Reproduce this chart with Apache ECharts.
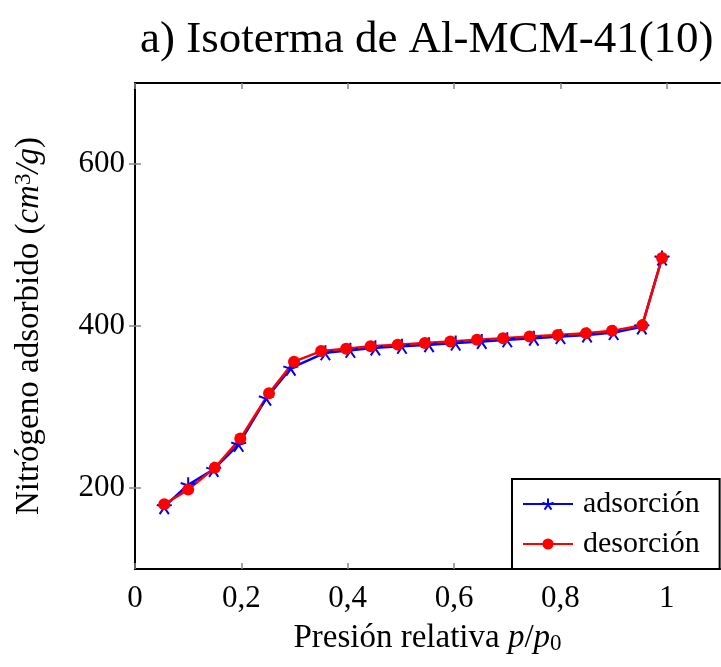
<!DOCTYPE html>
<html>
<head>
<meta charset="utf-8">
<script src="https://cdn.jsdelivr.net/npm/echarts@6/dist/echarts.min.js"></script>
<style>html,body{margin:0;padding:0;background:#fff}#c{width:721px;height:667px}</style>
</head>
<body>
<div id="c"></div>
<script>
const titleText = 'a) Isoterma de Al-MCM-41(10)';
const xTicks = [0, 0.2, 0.4, 0.6, 0.8, 1];
const yTicks = [200, 400, 600];
const adsX = [0.055, 0.1, 0.148, 0.195, 0.247, 0.293, 0.358, 0.405, 0.452, 0.502, 0.553, 0.603, 0.652, 0.7, 0.75, 0.8, 0.85, 0.9, 0.953, 0.991];
const adsY = [177, 204, 223, 254, 311, 348, 367, 370, 373, 375, 377, 379, 381, 383, 385, 387, 389, 392, 399, 484];
const desX = [0.055, 0.1, 0.15, 0.198, 0.252, 0.299, 0.35, 0.397, 0.443, 0.494, 0.545, 0.593, 0.643, 0.692, 0.742, 0.795, 0.848, 0.897, 0.954, 0.991];
const desY = [180, 198, 225, 261, 317, 356, 369, 372, 375, 377, 379, 381, 383, 385, 387, 389, 391, 394, 401, 484];

const FONT = 'Liberation Serif';
const chart = echarts.init(document.getElementById('c'), null, {renderer: 'canvas'});
const star = 'path://M0,-1L0,0M0.951,-0.309L0,0M0.588,0.809L0,0M-0.588,0.809L0,0M-0.951,-0.309L0,0';
const fmtX = v => String(Math.round(v * 10) / 10).replace('.', ',');
const tickStyle = {show: true, inside: true, length: 6, lineStyle: {color: '#888', width: 1.5}};
const lineStyle = {show: true, lineStyle: {color: '#000', width: 2}};
chart.setOption({
  animation: false,
  backgroundColor: '#fff',
  title: {text: titleText, left: 135, top: 13, textStyle: {fontFamily: FONT, fontWeight: 'normal', fontSize: 45, color: '#000'}},
  grid: {left: 135, top: 83, right: 1, bottom: 98, containLabel: false},
  legend: {
    orient: 'vertical', left: 512, top: 479, padding: [10, 20, 10, 10], itemGap: 10,
    backgroundColor: '#fff', borderColor: '#000', borderWidth: 2,
    itemWidth: 50, itemHeight: 14,
    textStyle: {fontFamily: FONT, fontSize: 30, color: '#000', padding: [0, 0, 0, 5]},
    data: ['adsorción', 'desorción']
  },
  xAxis: [{
    type: 'value', min: 0, max: 1.1,
    name: '{n|Presión relativa }{i|p}{n|/}{i|p}{s|0}',
    nameLocation: 'middle', nameGap: 53,
    nameTextStyle: {fontFamily: FONT, color: '#000', rich: {
      n: {fontFamily: FONT, fontSize: 33, color: '#000'},
      i: {fontFamily: FONT, fontSize: 33, fontStyle: 'italic', color: '#000'},
      s: {fontFamily: FONT, fontSize: 23, color: '#000', verticalAlign: 'bottom', padding: [10, 0, 0, 0]}
    }},
    axisLine: lineStyle, splitLine: {show: false},
    axisTick: Object.assign({customValues: xTicks}, tickStyle),
    axisLabel: {customValues: xTicks, formatter: fmtX, fontFamily: FONT, fontSize: 31, color: '#000', margin: 14}
  }, {
    type: 'value', min: 0, max: 1.1, position: 'top',
    axisLine: lineStyle, splitLine: {show: false},
    axisTick: Object.assign({customValues: xTicks}, tickStyle),
    axisLabel: {show: false}
  }],
  yAxis: [{
    type: 'value', min: 100, max: 700,
    name: '{n|Nitrógeno adsorbido (}{i|cm}{p|3}{i|/g}{n|)}',
    nameLocation: 'middle', nameGap: 88, nameRotate: 90,
    nameTextStyle: {fontFamily: FONT, color: '#000', rich: {
      n: {fontFamily: FONT, fontSize: 33, color: '#000'},
      i: {fontFamily: FONT, fontSize: 33, fontStyle: 'italic', color: '#000'},
      p: {fontFamily: FONT, fontSize: 23, color: '#000', verticalAlign: 'top', padding: [0, 0, 12, 0]}
    }},
    axisLine: lineStyle, splitLine: {show: false},
    axisTick: Object.assign({customValues: yTicks}, tickStyle),
    axisLabel: {customValues: yTicks, fontFamily: FONT, fontSize: 31, color: '#000', margin: 10}
  }, {
    type: 'value', min: 100, max: 700, position: 'right',
    axisLine: lineStyle, splitLine: {show: false},
    axisTick: Object.assign({customValues: yTicks}, tickStyle),
    axisLabel: {show: false}
  }],
  series: [{
    name: 'adsorción', type: 'line',
    data: adsX.map((x, i) => [x, adsY[i]]),
    symbol: star, symbolSize: 15,
    itemStyle: {color: '#0000ff', borderColor: '#0000ff', borderWidth: 2},
    lineStyle: {color: '#0000ff', width: 2.5},
    emphasis: {disabled: true}
  }, {
    name: 'desorción', type: 'line',
    data: desX.map((x, i) => [x, desY[i]]),
    symbol: 'circle', symbolSize: 12,
    itemStyle: {color: '#ff0000', borderWidth: 0},
    lineStyle: {color: '#ff0000', width: 2.5},
    emphasis: {disabled: true}
  }]
});
</script>
</body>
</html>
